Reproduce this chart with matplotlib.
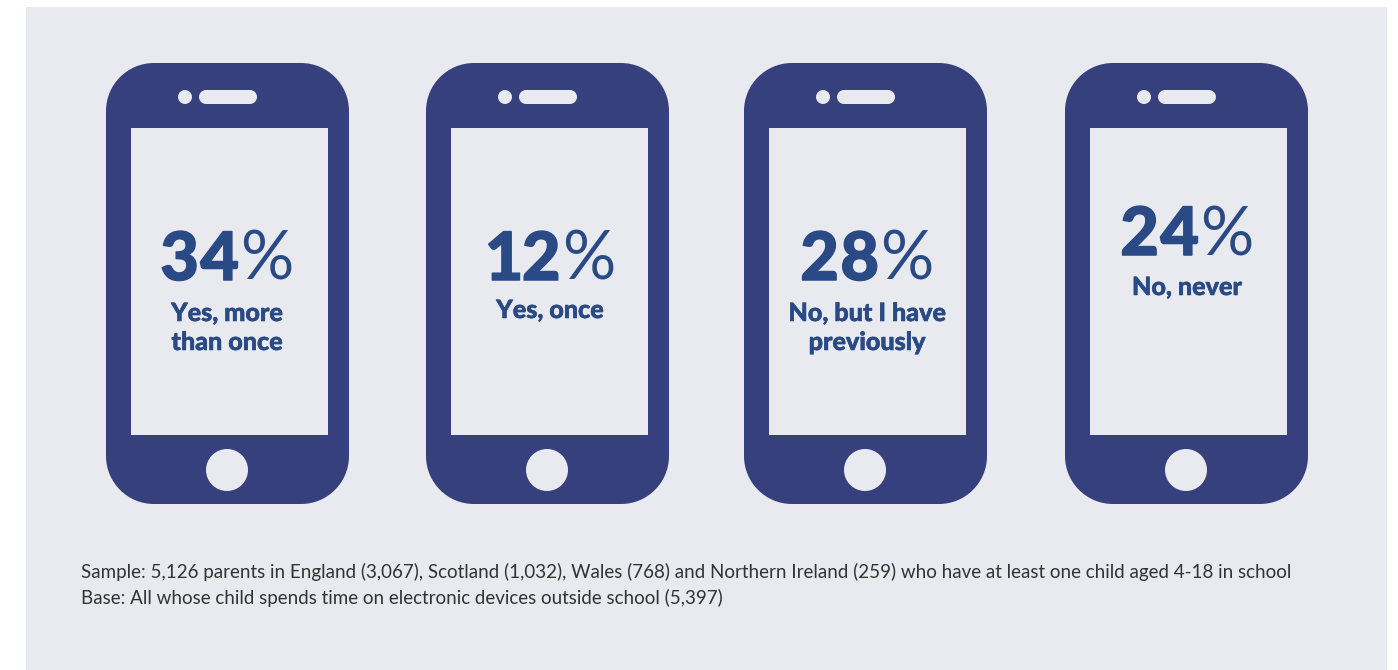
import matplotlib
matplotlib.use('Agg')
import matplotlib.pyplot as plt
import matplotlib.patheffects as pe
from matplotlib.patches import PathPatch, Rectangle, Circle
from matplotlib.path import Path

# survey results
percents = [34, 12, 28, 24]
answers = ['Yes, more\nthan once', 'Yes, once', 'No, but I have\npreviously', 'No, never']
footnotes = ['Sample: 5,126 parents in England (3,067), Scotland (1,032), Wales (768) and Northern Ireland (259) who have at least one child aged 4-18 in school',
             'Base: All whose child spends time on electronic devices outside school (5,397)']

# layout, in pixels
phone_left = [106, 426, 744, 1065]
number_base = [280, 280, 280, 255]
label_base = [321, 318, 321, 295]
num_center = [227, 550, 867, 1187]

BG = '#E9EAF0'
PHONE = '#36407C'
TEXT = '#2A4A86'
FONT = 'Lato'

fig = plt.figure(figsize=(13.98, 6.70), dpi=100, facecolor='white')
ax = fig.add_axes([0, 0, 1, 1])
ax.set_xlim(0, 1398)
ax.set_ylim(670, 0)
ax.axis('off')

ax.add_patch(Rectangle((26, 7), 1361, 663, fc=BG, ec='none'))


def round_rect(x0, y0, x1, y1, r, color):
    # circular corners, FancyBboxPatch gives squarer ones
    k = r * 0.4477
    verts = [(x0 + r, y0), (x1 - r, y0),
             (x1 - k, y0), (x1, y0 + k), (x1, y0 + r),
             (x1, y1 - r),
             (x1, y1 - k), (x1 - k, y1), (x1 - r, y1),
             (x0 + r, y1),
             (x0 + k, y1), (x0, y1 - k), (x0, y1 - r),
             (x0, y0 + r),
             (x0, y0 + k), (x0 + k, y0), (x0 + r, y0),
             (x0 + r, y0)]
    codes = [Path.MOVETO, Path.LINETO,
             Path.CURVE4, Path.CURVE4, Path.CURVE4,
             Path.LINETO,
             Path.CURVE4, Path.CURVE4, Path.CURVE4,
             Path.LINETO,
             Path.CURVE4, Path.CURVE4, Path.CURVE4,
             Path.LINETO,
             Path.CURVE4, Path.CURVE4, Path.CURVE4,
             Path.CLOSEPOLY]
    ax.add_patch(PathPatch(Path(verts, codes), fc=color, ec='none'))


def draw_phone(x):
    round_rect(x, 63, x + 243, 504, 48, PHONE)
    # screen
    ax.add_patch(Rectangle((x + 24.5, 128), 197, 307, fc=BG, ec='none'))
    # camera and speaker
    ax.add_patch(Circle((x + 79, 97), 7, fc=BG, ec='none'))
    round_rect(x + 93, 90, x + 151, 104, 7, BG)
    # home button
    ax.add_patch(Circle((x + 121, 470), 21, fc=BG, ec='none'))


fig.canvas.draw()
renderer = fig.canvas.get_renderer()
heavy = [pe.withStroke(linewidth=1.1, foreground=TEXT)]
heavy_small = [pe.withStroke(linewidth=0.4, foreground=TEXT)]

for i in range(4):
    draw_phone(phone_left[i])

    # digits are heavy, the percent sign is lighter, so place them side by side
    digits = []
    widths = []
    for ch in str(percents[i]):
        t = ax.text(0, number_base[i], ch, fontsize=48, family=FONT, fontweight='black',
                    color=TEXT, ha='left', va='baseline', path_effects=heavy)
        digits.append(t)
        # the figure one is set a little narrower
        widths.append(t.get_window_extent(renderer).width + (-1.5 if ch == '1' else 1.5))
    pct = ax.text(0, number_base[i], '%', fontsize=48, family=FONT,
                  fontweight='normal', color=TEXT, ha='left', va='baseline')
    w_pct = pct.get_window_extent(renderer).width
    x = num_center[i] - (sum(widths) + w_pct) / 2
    for t, w in zip(digits, widths):
        t.set_x(x)
        x += w
    pct.set_x(x)

    lines = answers[i].split('\n')
    for j, line in enumerate(lines):
        ax.text(num_center[i], label_base[i] + j * 29, line, fontsize=18.1, family=FONT,
                fontweight='black', color=TEXT, ha='center', va='baseline', path_effects=heavy_small)

ax.text(81, 578, footnotes[0], fontsize=13.47, family=FONT, color='#333333', ha='left', va='baseline')
ax.text(81, 604, footnotes[1], fontsize=13.47, family=FONT, color='#333333', ha='left', va='baseline')

fig.savefig('out.png', dpi=100, facecolor='white')
